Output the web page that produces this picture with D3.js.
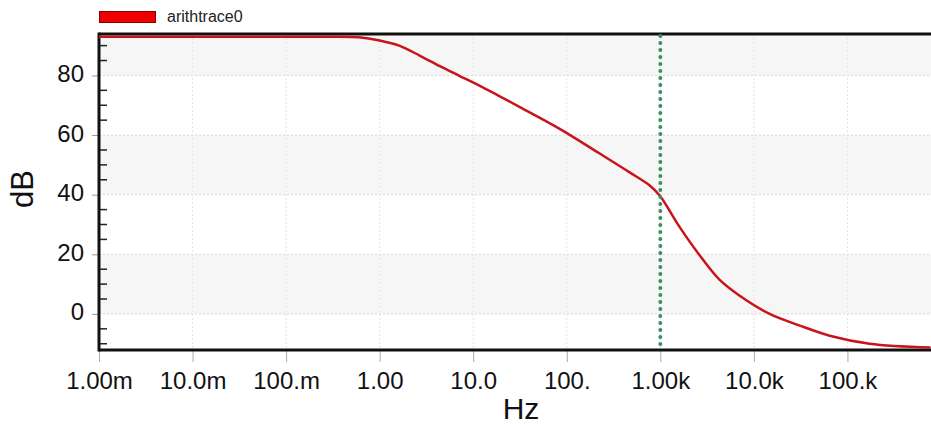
<!DOCTYPE html>
<html>
<head>
<meta charset="utf-8">
<script src="https://cdn.jsdelivr.net/npm/d3@7"></script>
<style>
  body { margin: 0; background: #fff; }
  svg { display: block; font-family: "Liberation Sans", Arial, sans-serif; }
</style>
</head>
<body>
<script>
// trace data: frequency (Hz) and level (dB)
var freq = [0.001, 0.01, 0.1, 0.3, 0.6, 1, 1.64, 2.7, 4.4, 7.2, 11.8, 19.2, 31.5, 84, 225, 470, 770, 985, 1610, 2640, 4310, 7050, 14750, 30900, 64600, 172600, 774000];
var dB   = [93, 93, 93, 93, 92.8, 91.7, 89.9, 86.6, 83.1, 79.8, 76.5, 73, 69.4, 62.1, 53.8, 47.5, 43.1, 39.7, 29.1, 19.6, 11.4, 6.1, 0, -3.9, -7.3, -10, -11.3];

var xTickValues = [1e-3, 1e-2, 1e-1, 1, 10, 100, 1e3, 1e4, 1e5];
var xTickLabels = ['1.00m', '10.0m', '100.m', '1.00', '10.0', '100.', '1.00k', '10.0k', '100.k'];
var yTickValues = [0, 20, 40, 60, 80];
var markerFreq = 1000;
var traceName = 'arithtrace0';

var W = 931, H = 428;
var margin = { top: 34, right: -10, bottom: 78, left: 99 };
var width = W - margin.left - margin.right;
var height = H - margin.top - margin.bottom;

var svg = d3.select('body').append('svg')
  .attr('width', W)
  .attr('height', H);

var g = svg.append('g')
  .attr('transform', `translate(${margin.left}, ${margin.top})`);

var xScale = d3.scaleLog().domain([1e-3, 1e6]).range([0, width]);
var yScale = d3.scaleLinear().domain([-12.1, 93.9]).range([height, 0]);

// alternating bands
var bands = [[0, 20], [40, 60], [80, 100]];
g.selectAll('.band')
  .data(bands)
  .enter().append('rect')
  .attr('x', 0)
  .attr('width', width)
  .attr('y', d => Math.max(0, yScale(d[1])))
  .attr('height', d => yScale(d[0]) - Math.max(0, yScale(d[1])))
  .style('fill', '#f6f6f6');

// gridlines
g.selectAll('.hgrid')
  .data(yTickValues)
  .enter().append('line')
  .attr('x1', 0).attr('x2', width)
  .attr('y1', d => yScale(d)).attr('y2', d => yScale(d))
  .style('stroke', '#d8d8d8')
  .style('stroke-dasharray', '2,2');

g.selectAll('.vgrid')
  .data(xTickValues.slice(1))
  .enter().append('line')
  .attr('x1', d => xScale(d)).attr('x2', d => xScale(d))
  .attr('y1', 0).attr('y2', height)
  .style('stroke', '#e4e4e4')
  .style('stroke-dasharray', '2,2');

// x axis (grey ticks below, custom labels)
var xAxis = d3.axisBottom(xScale)
  .tickValues(xTickValues)
  .tickFormat((d, i) => xTickLabels[i])
  .tickSize(12)
  .tickPadding(4);

var xg = g.append('g')
  .attr('transform', `translate(0, ${height})`)
  .call(xAxis);
xg.select('.domain').remove();
xg.selectAll('.tick line').style('stroke', '#aaa');
xg.selectAll('.tick text').style('font-size', '24px').style('fill', '#111').attr('dy', '0.95em');

// y axis major ticks and labels
var yAxis = d3.axisLeft(yScale)
  .tickValues(yTickValues)
  .tickSize(7)
  .tickPadding(8);

var yg = g.append('g').call(yAxis);
yg.select('.domain').remove();
yg.selectAll('.tick line').style('stroke', '#999');
yg.selectAll('.tick text').style('font-size', '24px').style('fill', '#111').attr('dy', '0.25em');

// y minor ticks (inside)
var minor = d3.range(-10, 95, 5).filter(v => v % 20 !== 0);
g.selectAll('.minor')
  .data(minor)
  .enter().append('line')
  .attr('x1', 0).attr('x2', 8)
  .attr('y1', d => yScale(d)).attr('y2', d => yScale(d))
  .style('stroke', '#222')
  .style('stroke-width', 1.5);

// frame
g.append('line').attr('x1', 0).attr('x2', width).attr('y1', 0).attr('y2', 0)
  .style('stroke', '#111').style('stroke-width', 3);
g.append('line').attr('x1', 0).attr('x2', width).attr('y1', height).attr('y2', height)
  .style('stroke', '#111').style('stroke-width', 3);
g.append('line').attr('x1', 0).attr('x2', 0).attr('y1', -1.5).attr('y2', height + 1.5)
  .style('stroke', '#111').style('stroke-width', 3);

// trace
var pts = freq.map((f, i) => ({ f: f, v: dB[i] }));
var line = d3.line()
  .x(d => xScale(d.f))
  .y(d => yScale(d.v))
  .curve(d3.curveCatmullRom.alpha(0.5));

g.append('path')
  .datum(pts)
  .attr('d', line)
  .style('fill', 'none')
  .style('stroke', '#c8141b')
  .style('stroke-width', 2.5);

// marker line
g.append('line')
  .attr('x1', xScale(markerFreq)).attr('x2', xScale(markerFreq))
  .attr('y1', 2).attr('y2', height)
  .style('stroke', '#3a8f62')
  .style('stroke-width', 4)
  .style('stroke-linecap', 'round')
  .style('stroke-dasharray', '0,7');

// axis titles
svg.append('text')
  .text('Hz')
  .attr('x', 521).attr('y', 419)
  .attr('text-anchor', 'middle')
  .style('font-size', '30px')
  .style('fill', '#111');

svg.append('text')
  .text('dB')
  .attr('text-anchor', 'middle')
  .attr('transform', 'translate(33, 189) rotate(-90)')
  .style('font-size', '31px')
  .style('fill', '#111');

// legend
svg.append('rect')
  .attr('x', 99.5).attr('y', 11.5)
  .attr('width', 56).attr('height', 11)
  .style('fill', '#ee0000')
  .style('stroke', '#8a0000');

svg.append('text')
  .text(traceName)
  .attr('x', 167).attr('y', 21.5)
  .style('font-size', '16px')
  .style('fill', '#222');
</script>
</body>
</html>
